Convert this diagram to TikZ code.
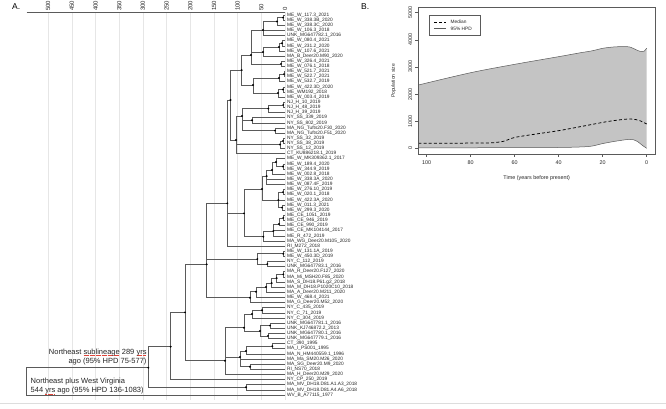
\documentclass[tikz,border=0pt]{standalone}
\usepackage{fontspec}
\setmainfont{Liberation Sans}
\usetikzlibrary{calc}
\definecolor{treegray}{HTML}{5A5A5A}
\definecolor{gridgray}{HTML}{E6E6E6}
\definecolor{hpdgray}{HTML}{C4C4C4}
\definecolor{sepgray}{HTML}{DDDDDD}
\definecolor{squig}{HTML}{E0453A}
\newcommand\redul[1]{\setbox0\hbox{#1}\rlap{\textcolor{squig}{\hbox to \wd0{\leaders\hbox{\rule[-1.7pt]{0.8pt}{0.5pt}\hskip0.4pt}\hfill}}}\box0\relax}
\newcommand\tn[3]{\coordinate (#1) at (#2,#3);}
\newcommand\kids[2]{\foreach \cc in {#2}{\draw[treeline] (#1) |- (\cc);}}
\begin{document}
\begin{tikzpicture}[x=1pt,y=-1pt,
  treeline/.style={draw=treegray,line width=0.6pt},
  gridline/.style={draw=gridgray,line width=0.6pt},
  axisline/.style={draw=treegray,line width=0.6pt},
  leaflab/.style={anchor=west,inner sep=0pt,font=\fontsize{4.8}{5}\selectfont,text=black!85},
  ticklab/.style={inner sep=0pt,font=\fontsize{6}{6}\selectfont,text=black!85},
  btick/.style={inner sep=0pt,font=\fontsize{5.4}{6}\selectfont,text=black!85},
  panellab/.style={inner sep=0pt,anchor=west,font=\fontsize{8.5}{9}\selectfont},
  annot/.style={inner sep=0pt,font=\fontsize{7.5}{9.5}\selectfont,text=black!85}]
\useasboundingbox (0,0) rectangle (666,408);
\fill[white] (0,0) rectangle (666,408);

% ---------------- Panel A ----------------
\node[panellab] (labA) at (12,6.5) {A.};
\foreach \v [count=\k] in {500,450,...,0} {
  \pgfmathsetmacro\gx{285-0.4737*\v}
  \draw[gridline] (\gx,12) -- (\gx,400);
  \node[ticklab,rotate=90,anchor=west] (ax\k) at (\gx,11) {\v};
}
\draw[axisline] (26.7,12) -- (285,12);

% leaves
\foreach \lab [count=\i] in {
ME\_W\_117.3\_2021, ME\_W\_338.3B\_2020, ME\_W\_338.3C\_2020, ME\_W\_106.3\_2018, UNK\_MG647782.1\_2016,
ME\_W\_080.4\_2021, ME\_W\_231.2\_2020, ME\_W\_107.6\_2021, MA\_B\_Deer20.M90\_2020, ME\_W\_326.4\_2021,
ME\_W\_076.1\_2018, ME\_W\_521.7\_2021, ME\_W\_522.7\_2021, ME\_W\_532.7\_2019, ME\_W\_422.3D\_2020,
ME\_WM192\_2018, ME\_W\_003.4\_2019, NJ\_H\_10\_2019, NJ\_H\_48\_2019, NJ\_H\_39\_2019,
NY\_SS\_339\_2019, NY\_SS\_802\_2019, MA\_NG\_Tufts20.F30\_2020, MA\_NG\_Tufts20.F51\_2020, NY\_SS\_32\_2019,
NY\_SS\_38\_2019, NY\_SS\_12\_2019, CT\_KU886218.1\_2019, ME\_W\_MK309362.1\_2017, ME\_W\_189.4\_2020,
ME\_W\_344.9\_2019, ME\_W\_002.8\_2018, ME\_W\_338.3A\_2020, ME\_W\_087.4F\_2019, ME\_W\_276.10\_2019,
ME\_W\_020.1\_2018, ME\_W\_422.3A\_2020, ME\_W\_011.3\_2021, ME\_W\_299.3\_2020, ME\_CE\_1051\_2019,
ME\_CE\_946\_2019, ME\_CE\_990\_2019, ME\_CE\_MK104144\_2017, ME\_R\_472\_2019, MA\_WG\_Deer20.M105\_2020,
RI\_M272\_2018, ME\_W\_131.1A\_2019, ME\_W\_450.3D\_2019, NY\_C\_112\_2019, UNK\_MG647783.1\_2016,
MA\_R\_Deer20.F127\_2020, MA\_Mi\_MSH20.F85\_2020, MA\_S\_DH18.P61.g2\_2018, MA\_M\_DH18.P1020C10\_2018, MA\_A\_Deer20.M211\_2020,
ME\_W\_468.4\_2021, MA\_G\_Deer20.M52\_2020, NY\_C\_435\_2019, NY\_C\_71\_2019, NY\_C\_304\_2019,
UNK\_MG647781.1\_2016, UNK\_KJ746872.2\_2013, UNK\_MG647780.1\_2016, UNK\_MG647779.1\_2016, CT\_390\_1995,
MA\_I\_PS001\_1995, MA\_N\_HM440559.1\_1996, MA\_Ma\_SM20.M26\_2020, MA\_SG\_Deer20.M9\_2020, RI\_NS70\_2018,
MA\_H\_Deer20.M29\_2020, NY\_CP\_250\_2019, MA\_MV\_DH18.D81.A1.A3\_2018, MA\_MV\_DH18.D81.A4.A6\_2018, WV\_B\_A77115\_1977} {
  \pgfmathsetmacro\yy{15+(\i-1)*5.135}
  \coordinate (l\i) at (285,\yy);
  \node[leaflab] (t\i) at (287,\yy) {\lab};
}

% internal nodes
\tn{a1}{283}{17.55} \tn{a2}{277}{21.5} \tn{a3}{263}{30}
\tn{a5}{282}{43.25} \tn{a5b}{279}{47} \tn{a6}{263}{52}
\tn{a7}{281}{63.8} \tn{a4}{251}{55}
\tn{a8b}{284}{74.05} \tn{a8}{279}{78} \tn{a9b}{283}{89.45} \tn{a9}{278}{93}
\tn{P3}{253}{85} \tn{P2}{241.7}{70}
\tn{b1}{283.3}{104.85} \tn{b2}{268.3}{108.5} \tn{b3}{252}{120.25} \tn{b5}{275}{130.55}
\tn{b6}{242}{116} \tn{b7a}{283}{140.8} \tn{b7}{280}{144.5} \tn{Q}{236}{140} \tn{T}{230.5}{100}
\tn{c1}{283}{166.5} \tn{c2}{276}{162} \tn{c3}{272}{170} \tn{c4}{266.7}{176}
\tn{c5}{283}{192.15} \tn{c6}{282}{207.55} \tn{c7}{278.3}{200} \tn{c8}{262}{189}
\tn{d1}{283.3}{217.85} \tn{d2}{279}{224} \tn{d3}{273.3}{231} \tn{d4}{263.3}{236.7}
\tn{M}{244}{213.3} \tn{A1}{227.3}{203.3}
\tn{e1}{283.3}{253.75} \tn{e2}{267.3}{264} \tn{e3}{257.3}{259}
\tn{f1}{283.3}{274.3} \tn{f2}{276.7}{278} \tn{f3}{271.7}{283} \tn{f3b}{266}{287}
\tn{f4}{256}{291.7} \tn{f5}{250}{297.7}
\tn{B1}{206.7}{264.3}
\tn{h1}{262}{310.25} \tn{h2}{252}{314} \tn{h3a}{270}{325.65} \tn{h3b}{268}{335.9}
\tn{h3}{260}{331} \tn{H}{244}{327.7}
\tn{i1}{272.3}{346.15} \tn{i2}{246}{351} \tn{i3}{240}{357} \tn{i4}{250}{366.7} \tn{I}{225}{360.7}
\tn{G}{185}{312.3} \tn{R2}{170.7}{346.7} \tn{MV}{246}{387.25}
\tn{N289}{148.3}{367.7} \tn{root}{26.7}{381}

\kids{a1}{l1,l2} \kids{a2}{a1,l3} \kids{a3}{a2,l4,l5}
\kids{a5}{l6,l7} \kids{a5b}{a5,l8} \kids{a6}{a5b,l9}
\kids{a7}{l10,l11} \kids{a4}{a3,a6,a7}
\kids{a8b}{l12,l13} \kids{a8}{a8b,l14} \kids{a9b}{l15,l16} \kids{a9}{a9b,l17}
\kids{P3}{a8,a9} \kids{P2}{a4,P3}
\kids{b1}{l18,l19} \kids{b2}{b1,l20} \kids{b3}{l21,l22} \kids{b5}{l23,l24}
\kids{b6}{b2,b3,b5} \kids{b7a}{l25,l26} \kids{b7}{b7a,l27} \kids{Q}{b6,b7,l28} \kids{T}{P2,Q}
\kids{c1}{l30,l31} \kids{c2}{l29,c1} \kids{c3}{c2,l32} \kids{c4}{c3,l33,l34}
\kids{c5}{l35,l36} \kids{c6}{l38,l39} \kids{c7}{c5,l37,c6} \kids{c8}{c4,c7}
\kids{d1}{l40,l41} \kids{d2}{d1,l42} \kids{d3}{d2,l43,l44} \kids{d4}{d3,l45}
\kids{M}{c8,d4} \kids{A1}{T,M,l46}
\kids{e1}{l47,l48} \kids{e2}{l49,l50} \kids{e3}{e1,e2}
\kids{f1}{l51,l52} \kids{f2}{f1,l53} \kids{f3}{f2,l54} \kids{f3b}{f3,l55} \kids{f4}{f3b,l56} \kids{f5}{f4,l57}
\kids{B1}{A1,e3,f5}
\kids{h1}{l58,l59} \kids{h2}{h1,l60} \kids{h3a}{l61,l62} \kids{h3b}{l63,l64}
\kids{h3}{h3a,h3b} \kids{H}{h2,h3}
\kids{i1}{l65,l66} \kids{i2}{i1,l67} \kids{i4}{l69,l70} \kids{i3}{i2,l68,i4} \kids{I}{H,i3,l71}
\kids{G}{B1,I} \kids{R2}{G,l72} \kids{MV}{l73,l74}
\kids{N289}{R2,MV} \kids{root}{N289,l75}

\foreach \nn in {a1,a2,a3,a5,a5b,a6,a7,a4,a8b,a8,a9b,a9,P3,P2,b1,b2,b3,b5,b6,b7a,b7,Q,T,
  c1,c2,c3,c4,c5,c6,c7,c8,d1,d2,d3,d4,M,A1,e1,e2,e3,f1,f2,f3,f3b,f4,f5,B1,h1,h2,h3a,h3b,h3,H,
  i1,i2,i3,i4,I,G,R2,MV,N289}
  \fill[black] (\nn) circle (1.05);

% annotations
\node[annot,anchor=east,align=right] (ne289) at (146.7,357)
  {Northeast \redul{sublineage} 289 \redul{yrs}\\ago (95\% HPD 75-577)};
\node[annot,anchor=west,align=left] (newv) at (30.5,386)
  {Northeast plus West Virginia\\544 \redul{yrs} ago (95\% HPD 136-1083)};

% bottom separator
\draw[sepgray,line width=0.8pt] (0,403) -- (666,403);

% ---------------- Panel B ----------------
\node[panellab] (labB) at (361,6.5) {B.};
\begin{scope}[shift={(646.7,148.3)},x=-2.2pt,y=0.02713pt]
  \fill[hpdgray] plot[smooth,tension=0.5] coordinates {(103.8,2333) (80,2787) (60,3096) (40,3378) (30,3524) (25,3590) (20,3686) (15,3735) (10,3752) (8,3740) (6,3680) (4,3600) (2,3560) (1,3590) (0,3690)}
    -- plot[smooth,tension=0.5] coordinates {(0,0) (2,110) (4,240) (6,315) (8,330) (11,300) (15,250) (20,175) (25,80) (30,50) (40,30) (60,25) (80,20) (103.8,20)} -- cycle;
  \draw[gray!70!black,line width=0.5pt] plot[smooth,tension=0.5] coordinates {(103.8,2333) (80,2787) (60,3096) (40,3378) (30,3524) (25,3590) (20,3686) (15,3735) (10,3752) (8,3740) (6,3680) (4,3600) (2,3560) (1,3590) (0,3690)};
  \draw[gray!70!black,line width=0.5pt] plot[smooth,tension=0.5] coordinates {(0,0) (2,110) (4,240) (6,315) (8,330) (11,300) (15,250) (20,175) (25,80) (30,50) (40,30) (60,25) (80,20) (103.8,20)};
  \draw[black,line width=0.75pt,dash pattern=on 3pt off 2.2pt] plot[smooth,tension=0.5] coordinates {(103.8,185) (90,188) (75,195) (70,205) (65,260) (60,400) (50,530) (40,650) (30,800) (20,955) (15,1020) (10,1070) (7.5,1080) (5,1060) (3,1015) (0,896)};
\end{scope}
\draw[treegray,line width=0.6pt] (418.3,7.3) rectangle (655,154);
\foreach \v/\yy in {0/148.3,1000/121.17,2000/94.04,3000/66.91,4000/39.78,5000/12.65} {
  \draw[treegray,line width=0.5pt] (415.3,\yy) -- (418.3,\yy);
  \node[btick,rotate=90,anchor=south] (yt\v) at (412.3,\yy) {\v};
}
\foreach \t in {100,80,60,40,20,0} {
  \pgfmathsetmacro\xx{646.7-2.2*\t}
  \draw[treegray,line width=0.5pt] (\xx,154) -- (\xx,157);
  \node[btick,anchor=north] (xt\t) at (\xx,160.3) {\t};
}
\node[btick] (xtitle) at (536.7,178.3) {Time (years before present)};
\node[btick,rotate=90,font=\fontsize{5}{6}\selectfont] (ytitle) at (393.5,81) {Population size};
% legend
\draw[treegray,line width=0.5pt] (429.3,15) rectangle (480,35);
\coordinate (lg1a) at (434,22.2); \coordinate (lg1b) at (446,22.2);
\coordinate (lg2a) at (434,28.5); \coordinate (lg2b) at (446,28.5);
\draw[black,line width=0.75pt,dash pattern=on 3pt off 2.2pt] (lg1a) -- (lg1b);
\draw[gray!70!black,line width=0.5pt] (lg2a) -- (lg2b);
\node[btick,anchor=west,font=\fontsize{4.8}{5}\selectfont] (lgm) at (450.5,22.2) {Median};
\node[btick,anchor=west,font=\fontsize{4.8}{5}\selectfont] (lgh) at (450.5,28.5) {95\% HPD};
\end{tikzpicture}
\end{document}
